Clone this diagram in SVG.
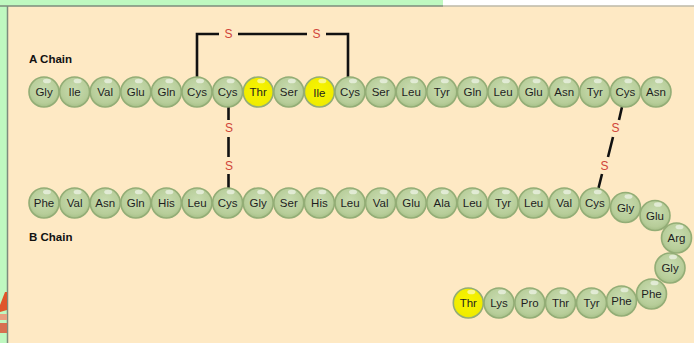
<svg xmlns="http://www.w3.org/2000/svg" width="694" height="343" viewBox="0 0 694 343">
<defs>
<radialGradient id="gG" cx="0.5" cy="0.42" r="0.6">
<stop offset="0" stop-color="#c9dcb1"/>
<stop offset="0.75" stop-color="#b7cd99"/>
<stop offset="1" stop-color="#a3bd85"/>
</radialGradient>
<radialGradient id="gY" cx="0.5" cy="0.45" r="0.6">
<stop offset="0" stop-color="#f8f500"/>
<stop offset="0.8" stop-color="#f0ec00"/>
<stop offset="1" stop-color="#d8d820"/>
</radialGradient>
<style>
.aa{stroke:#93ad76;stroke-width:1.6}
.g{fill:url(#gG)}
.y{fill:url(#gY)}
.hl{fill:#ffffff;opacity:0.55}
.t{font-family:"Liberation Sans",Arial,sans-serif;font-size:11.5px;fill:#1e1e1e;text-anchor:middle}
.lbl{font-family:"Liberation Sans",Arial,sans-serif;font-size:11.5px;font-weight:bold;fill:#111}
.s{font-family:"Liberation Sans",Arial,sans-serif;font-size:12px;fill:#d0453a;text-anchor:middle}
.b{stroke:#111;stroke-width:2.6;fill:none}
</style>
</defs>
<rect x="0" y="0" width="694" height="343" fill="#fee9c4"/>
<rect x="0" y="0" width="443" height="6" fill="#bff8c0"/>
<rect x="443" y="0" width="251" height="6" fill="#ffffff"/>
<rect x="0" y="0" width="7" height="343" fill="#bff8c0"/>
<line x1="0" y1="6" x2="443" y2="6" stroke="#7d8c7d" stroke-width="1.5"/>
<line x1="443" y1="6" x2="694" y2="6" stroke="#bdb9a8" stroke-width="1.5"/>
<line x1="7.5" y1="6" x2="7.5" y2="343" stroke="#7d8c7d" stroke-width="1.5"/>
<g id="edge-artifact">
<polygon points="0,305 5,292 7,292 7,310 0,312" fill="#e0552a"/>
<rect x="0" y="314" width="7" height="6" fill="#e8a080"/>
<rect x="0" y="323" width="7" height="10" fill="#d77050"/>
</g>
<text class="lbl" x="29" y="63">A Chain</text>
<text class="lbl" x="29" y="241">B Chain</text>
<g id="connectors">
<polyline class="b" points="197,77 197,34 219,34"/>
<line class="b" x1="238" y1="34" x2="307" y2="34"/>
<polyline class="b" points="326,34 348,34 348,77"/>
<text class="s" x="228.5" y="38">S</text>
<text class="s" x="316.5" y="38">S</text>
<line class="b" x1="228.5" y1="107" x2="228.5" y2="120"/>
<line class="b" x1="228.5" y1="137" x2="228.5" y2="157"/>
<line class="b" x1="228.5" y1="174" x2="228.5" y2="188"/>
<text class="s" x="229" y="132">S</text>
<text class="s" x="229" y="170">S</text>
<line class="b" x1="622" y1="107" x2="619" y2="120"/>
<line class="b" x1="613" y1="137" x2="608" y2="157"/>
<line class="b" x1="602" y1="174" x2="598.5" y2="188"/>
<text class="s" x="615.5" y="132">S</text>
<text class="s" x="604.5" y="170">S</text>
</g>
<g id="a-chain">
<g id="a1"><circle class="aa g" cx="44" cy="92" r="15"/><ellipse class="hl" cx="47" cy="81" rx="4" ry="2.3"/><text class="t" x="44" y="96">Gly</text></g>
<g id="a2"><circle class="aa g" cx="74.6" cy="92" r="15"/><ellipse class="hl" cx="77.6" cy="81" rx="4" ry="2.3"/><text class="t" x="74.6" y="96">Ile</text></g>
<g id="a3"><circle class="aa g" cx="105.2" cy="92" r="15"/><ellipse class="hl" cx="108.2" cy="81" rx="4" ry="2.3"/><text class="t" x="105.2" y="96">Val</text></g>
<g id="a4"><circle class="aa g" cx="135.8" cy="92" r="15"/><ellipse class="hl" cx="138.8" cy="81" rx="4" ry="2.3"/><text class="t" x="135.8" y="96">Glu</text></g>
<g id="a5"><circle class="aa g" cx="166.4" cy="92" r="15"/><ellipse class="hl" cx="169.4" cy="81" rx="4" ry="2.3"/><text class="t" x="166.4" y="96">Gln</text></g>
<g id="a6"><circle class="aa g" cx="197" cy="92" r="15"/><ellipse class="hl" cx="200" cy="81" rx="4" ry="2.3"/><text class="t" x="197" y="96">Cys</text></g>
<g id="a7"><circle class="aa g" cx="227.6" cy="92" r="15"/><ellipse class="hl" cx="230.6" cy="81" rx="4" ry="2.3"/><text class="t" x="227.6" y="96">Cys</text></g>
<g id="a8"><circle class="aa y" cx="258.2" cy="92" r="15"/><ellipse class="hl" cx="261.2" cy="81" rx="4" ry="2.3"/><text class="t" x="258.2" y="96">Thr</text></g>
<g id="a9"><circle class="aa g" cx="288.8" cy="92" r="15"/><ellipse class="hl" cx="291.8" cy="81" rx="4" ry="2.3"/><text class="t" x="288.8" y="96">Ser</text></g>
<g id="a10"><circle class="aa y" cx="319.4" cy="92" r="15"/><ellipse class="hl" cx="322.4" cy="81" rx="4" ry="2.3"/><text class="t" x="319.4" y="97">Ile</text></g>
<g id="a11"><circle class="aa g" cx="350" cy="92" r="15"/><ellipse class="hl" cx="353" cy="81" rx="4" ry="2.3"/><text class="t" x="350" y="96">Cys</text></g>
<g id="a12"><circle class="aa g" cx="380.6" cy="92" r="15"/><ellipse class="hl" cx="383.6" cy="81" rx="4" ry="2.3"/><text class="t" x="380.6" y="96">Ser</text></g>
<g id="a13"><circle class="aa g" cx="411.2" cy="92" r="15"/><ellipse class="hl" cx="414.2" cy="81" rx="4" ry="2.3"/><text class="t" x="411.2" y="96">Leu</text></g>
<g id="a14"><circle class="aa g" cx="441.8" cy="92" r="15"/><ellipse class="hl" cx="444.8" cy="81" rx="4" ry="2.3"/><text class="t" x="441.8" y="96">Tyr</text></g>
<g id="a15"><circle class="aa g" cx="472.4" cy="92" r="15"/><ellipse class="hl" cx="475.4" cy="81" rx="4" ry="2.3"/><text class="t" x="472.4" y="96">Gln</text></g>
<g id="a16"><circle class="aa g" cx="503" cy="92" r="15"/><ellipse class="hl" cx="506" cy="81" rx="4" ry="2.3"/><text class="t" x="503" y="96">Leu</text></g>
<g id="a17"><circle class="aa g" cx="533.6" cy="92" r="15"/><ellipse class="hl" cx="536.6" cy="81" rx="4" ry="2.3"/><text class="t" x="533.6" y="96">Glu</text></g>
<g id="a18"><circle class="aa g" cx="564.2" cy="92" r="15"/><ellipse class="hl" cx="567.2" cy="81" rx="4" ry="2.3"/><text class="t" x="564.2" y="96">Asn</text></g>
<g id="a19"><circle class="aa g" cx="594.8" cy="92" r="15"/><ellipse class="hl" cx="597.8" cy="81" rx="4" ry="2.3"/><text class="t" x="594.8" y="96">Tyr</text></g>
<g id="a20"><circle class="aa g" cx="625.4" cy="92" r="15"/><ellipse class="hl" cx="628.4" cy="81" rx="4" ry="2.3"/><text class="t" x="625.4" y="96">Cys</text></g>
<g id="a21"><circle class="aa g" cx="656" cy="92" r="15"/><ellipse class="hl" cx="659" cy="81" rx="4" ry="2.3"/><text class="t" x="656" y="96">Asn</text></g>
</g>
<g id="b-chain">
<g id="b1"><circle class="aa g" cx="44" cy="203" r="15"/><ellipse class="hl" cx="47" cy="192" rx="4" ry="2.3"/><text class="t" x="44" y="207">Phe</text></g>
<g id="b2"><circle class="aa g" cx="74.6" cy="203" r="15"/><ellipse class="hl" cx="77.6" cy="192" rx="4" ry="2.3"/><text class="t" x="74.6" y="207">Val</text></g>
<g id="b3"><circle class="aa g" cx="105.2" cy="203" r="15"/><ellipse class="hl" cx="108.2" cy="192" rx="4" ry="2.3"/><text class="t" x="105.2" y="207">Asn</text></g>
<g id="b4"><circle class="aa g" cx="135.8" cy="203" r="15"/><ellipse class="hl" cx="138.8" cy="192" rx="4" ry="2.3"/><text class="t" x="135.8" y="207">Gln</text></g>
<g id="b5"><circle class="aa g" cx="166.4" cy="203" r="15"/><ellipse class="hl" cx="169.4" cy="192" rx="4" ry="2.3"/><text class="t" x="166.4" y="207">His</text></g>
<g id="b6"><circle class="aa g" cx="197" cy="203" r="15"/><ellipse class="hl" cx="200" cy="192" rx="4" ry="2.3"/><text class="t" x="197" y="207">Leu</text></g>
<g id="b7"><circle class="aa g" cx="227.6" cy="203" r="15"/><ellipse class="hl" cx="230.6" cy="192" rx="4" ry="2.3"/><text class="t" x="227.6" y="207">Cys</text></g>
<g id="b8"><circle class="aa g" cx="258.2" cy="203" r="15"/><ellipse class="hl" cx="261.2" cy="192" rx="4" ry="2.3"/><text class="t" x="258.2" y="207">Gly</text></g>
<g id="b9"><circle class="aa g" cx="288.8" cy="203" r="15"/><ellipse class="hl" cx="291.8" cy="192" rx="4" ry="2.3"/><text class="t" x="288.8" y="207">Ser</text></g>
<g id="b10"><circle class="aa g" cx="319.4" cy="203" r="15"/><ellipse class="hl" cx="322.4" cy="192" rx="4" ry="2.3"/><text class="t" x="319.4" y="207">His</text></g>
<g id="b11"><circle class="aa g" cx="350" cy="203" r="15"/><ellipse class="hl" cx="353" cy="192" rx="4" ry="2.3"/><text class="t" x="350" y="207">Leu</text></g>
<g id="b12"><circle class="aa g" cx="380.6" cy="203" r="15"/><ellipse class="hl" cx="383.6" cy="192" rx="4" ry="2.3"/><text class="t" x="380.6" y="207">Val</text></g>
<g id="b13"><circle class="aa g" cx="411.2" cy="203" r="15"/><ellipse class="hl" cx="414.2" cy="192" rx="4" ry="2.3"/><text class="t" x="411.2" y="207">Glu</text></g>
<g id="b14"><circle class="aa g" cx="441.8" cy="203" r="15"/><ellipse class="hl" cx="444.8" cy="192" rx="4" ry="2.3"/><text class="t" x="441.8" y="207">Ala</text></g>
<g id="b15"><circle class="aa g" cx="472.4" cy="203" r="15"/><ellipse class="hl" cx="475.4" cy="192" rx="4" ry="2.3"/><text class="t" x="472.4" y="207">Leu</text></g>
<g id="b16"><circle class="aa g" cx="503" cy="203" r="15"/><ellipse class="hl" cx="506" cy="192" rx="4" ry="2.3"/><text class="t" x="503" y="207">Tyr</text></g>
<g id="b17"><circle class="aa g" cx="533.6" cy="203" r="15"/><ellipse class="hl" cx="536.6" cy="192" rx="4" ry="2.3"/><text class="t" x="533.6" y="207">Leu</text></g>
<g id="b18"><circle class="aa g" cx="564.2" cy="203" r="15"/><ellipse class="hl" cx="567.2" cy="192" rx="4" ry="2.3"/><text class="t" x="564.2" y="207">Val</text></g>
<g id="b19"><circle class="aa g" cx="594.8" cy="203" r="15"/><ellipse class="hl" cx="597.8" cy="192" rx="4" ry="2.3"/><text class="t" x="594.8" y="207">Cys</text></g>
<g id="b20"><circle class="aa g" cx="625.5" cy="207.5" r="15"/><ellipse class="hl" cx="628.5" cy="196.5" rx="4" ry="2.3"/><text class="t" x="625.5" y="211.5">Gly</text></g>
<g id="b21"><circle class="aa g" cx="655" cy="215.5" r="15"/><ellipse class="hl" cx="658" cy="204.5" rx="4" ry="2.3"/><text class="t" x="655" y="219.5">Glu</text></g>
<g id="b22"><circle class="aa g" cx="676.5" cy="238" r="15"/><ellipse class="hl" cx="679.5" cy="227" rx="4" ry="2.3"/><text class="t" x="676.5" y="242">Arg</text></g>
<g id="b23"><circle class="aa g" cx="670" cy="268" r="15"/><ellipse class="hl" cx="673" cy="257" rx="4" ry="2.3"/><text class="t" x="670" y="272">Gly</text></g>
<g id="b24"><circle class="aa g" cx="651.5" cy="294" r="15"/><ellipse class="hl" cx="654.5" cy="283" rx="4" ry="2.3"/><text class="t" x="651.5" y="298">Phe</text></g>
<g id="b25"><circle class="aa g" cx="621.5" cy="301" r="15"/><ellipse class="hl" cx="624.5" cy="290" rx="4" ry="2.3"/><text class="t" x="621.5" y="305">Phe</text></g>
<g id="b26"><circle class="aa g" cx="591.5" cy="303" r="15"/><ellipse class="hl" cx="594.5" cy="292" rx="4" ry="2.3"/><text class="t" x="591.5" y="307">Tyr</text></g>
<g id="b27"><circle class="aa g" cx="560.5" cy="303" r="15"/><ellipse class="hl" cx="563.5" cy="292" rx="4" ry="2.3"/><text class="t" x="560.5" y="307">Thr</text></g>
<g id="b28"><circle class="aa g" cx="529.8" cy="303" r="15"/><ellipse class="hl" cx="532.8" cy="292" rx="4" ry="2.3"/><text class="t" x="529.8" y="307">Pro</text></g>
<g id="b29"><circle class="aa g" cx="499" cy="303" r="15"/><ellipse class="hl" cx="502" cy="292" rx="4" ry="2.3"/><text class="t" x="499" y="307">Lys</text></g>
<g id="b30"><circle class="aa y" cx="468.3" cy="303" r="15"/><ellipse class="hl" cx="471.3" cy="292" rx="4" ry="2.3"/><text class="t" x="468.3" y="307">Thr</text></g>
</g>
</svg>
